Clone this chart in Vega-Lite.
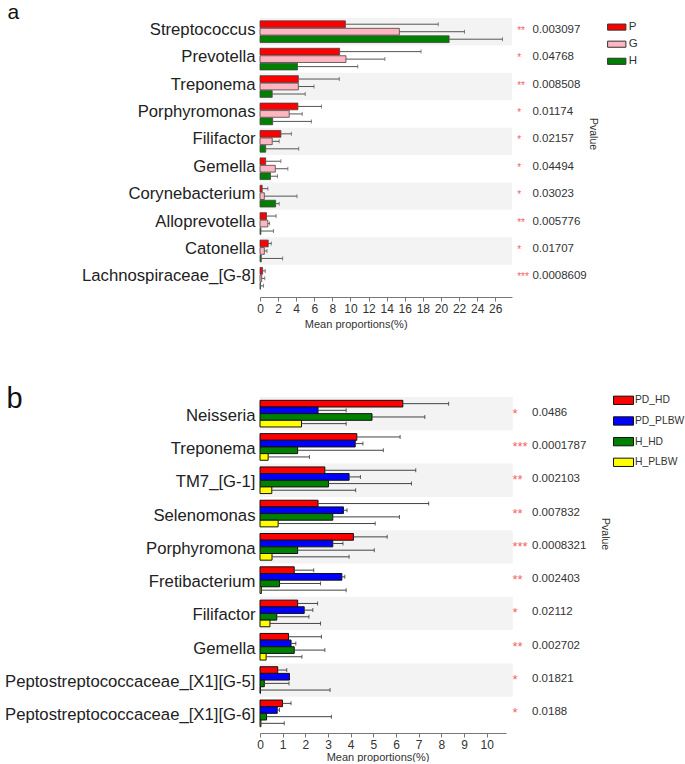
{
  "$schema": "https://vega.github.io/schema/vega-lite/v6.json",
  "padding": {"left": 4, "top": 2, "right": 0, "bottom": 0},
  "spacing": 56,
  "config": {
    "font": "Liberation Sans",
    "view": {"stroke": null},
    "axis": {"labelFont": "Liberation Sans", "titleFont": "Liberation Sans", "labelColor": "#333", "titleColor": "#333", "domainColor": "#777", "tickColor": "#777", "grid": false},
    "axisX": {"labelOverlap": false, "titleFontSize": 11, "titleFontWeight": "normal", "labelFontSize": 12, "tickSize": 4, "labelPadding": 2, "titlePadding": 4, "labelFlush": false}
  },
  "datasets": {
    "a_bars": [
      {"taxon": "Streptococcus", "group": "P", "mean": 9.44, "upper": 19.7},
      {"taxon": "Streptococcus", "group": "G", "mean": 15.4, "upper": 22.6},
      {"taxon": "Streptococcus", "group": "H", "mean": 20.9, "upper": 26.8},
      {"taxon": "Prevotella", "group": "P", "mean": 8.8, "upper": 17.8},
      {"taxon": "Prevotella", "group": "G", "mean": 9.5, "upper": 13.8},
      {"taxon": "Prevotella", "group": "H", "mean": 4.14, "upper": 10.8},
      {"taxon": "Treponema", "group": "P", "mean": 4.24, "upper": 8.76},
      {"taxon": "Treponema", "group": "G", "mean": 4.24, "upper": 5.97},
      {"taxon": "Treponema", "group": "H", "mean": 1.35, "upper": 5.0},
      {"taxon": "Porphyromonas", "group": "P", "mean": 4.19, "upper": 6.79},
      {"taxon": "Porphyromonas", "group": "G", "mean": 3.23, "upper": 4.67},
      {"taxon": "Porphyromonas", "group": "H", "mean": 1.4, "upper": 5.68},
      {"taxon": "Filifactor", "group": "P", "mean": 2.31, "upper": 3.47},
      {"taxon": "Filifactor", "group": "G", "mean": 1.35, "upper": 2.12},
      {"taxon": "Filifactor", "group": "H", "mean": 0.63, "upper": 4.28},
      {"taxon": "Gemella", "group": "P", "mean": 0.63, "upper": 2.31},
      {"taxon": "Gemella", "group": "G", "mean": 1.69, "upper": 3.08},
      {"taxon": "Gemella", "group": "H", "mean": 1.16, "upper": 1.93},
      {"taxon": "Corynebacterium", "group": "P", "mean": 0.24, "upper": 0.87},
      {"taxon": "Corynebacterium", "group": "G", "mean": 0.48, "upper": 4.09},
      {"taxon": "Corynebacterium", "group": "H", "mean": 1.73, "upper": 2.12},
      {"taxon": "Alloprevotella", "group": "P", "mean": 0.72, "upper": 1.78},
      {"taxon": "Alloprevotella", "group": "G", "mean": 0.87, "upper": 1.06},
      {"taxon": "Alloprevotella", "group": "H", "mean": 0.1, "upper": 1.49},
      {"taxon": "Catonella", "group": "P", "mean": 0.91, "upper": 1.25},
      {"taxon": "Catonella", "group": "G", "mean": 0.48, "upper": 0.77},
      {"taxon": "Catonella", "group": "H", "mean": 0.14, "upper": 2.5},
      {"taxon": "Lachnospiraceae_[G-8]", "group": "P", "mean": 0.29, "upper": 0.58},
      {"taxon": "Lachnospiraceae_[G-8]", "group": "G", "mean": 0.19, "upper": 0.53},
      {"taxon": "Lachnospiraceae_[G-8]", "group": "H", "mean": 0.05, "upper": 0.39}
    ],
    "a_p": [
      {"taxon": "Streptococcus", "star": "**", "p": "0.003097"},
      {"taxon": "Prevotella", "star": "*", "p": "0.04768"},
      {"taxon": "Treponema", "star": "**", "p": "0.008508"},
      {"taxon": "Porphyromonas", "star": "*", "p": "0.01174"},
      {"taxon": "Filifactor", "star": "*", "p": "0.02157"},
      {"taxon": "Gemella", "star": "*", "p": "0.04494"},
      {"taxon": "Corynebacterium", "star": "*", "p": "0.03023"},
      {"taxon": "Alloprevotella", "star": "**", "p": "0.005776"},
      {"taxon": "Catonella", "star": "*", "p": "0.01707"},
      {"taxon": "Lachnospiraceae_[G-8]", "star": "***", "p": "0.0008609"}
    ],
    "b_bars": [
      {"taxon": "Neisseria", "group": "PD_HD", "mean": 6.3, "upper": 8.32},
      {"taxon": "Neisseria", "group": "PD_PLBW", "mean": 2.56, "upper": 3.8},
      {"taxon": "Neisseria", "group": "H_HD", "mean": 4.94, "upper": 7.27},
      {"taxon": "Neisseria", "group": "H_PLBW", "mean": 1.83, "upper": 3.8},
      {"taxon": "Treponema", "group": "PD_HD", "mean": 4.27, "upper": 6.18},
      {"taxon": "Treponema", "group": "PD_PLBW", "mean": 4.2, "upper": 4.54},
      {"taxon": "Treponema", "group": "H_HD", "mean": 1.66, "upper": 5.44},
      {"taxon": "Treponema", "group": "H_PLBW", "mean": 0.36, "upper": 2.18},
      {"taxon": "TM7_[G-1]", "group": "PD_HD", "mean": 2.86, "upper": 6.87},
      {"taxon": "TM7_[G-1]", "group": "PD_PLBW", "mean": 3.93, "upper": 4.43},
      {"taxon": "TM7_[G-1]", "group": "H_HD", "mean": 3.02, "upper": 6.68},
      {"taxon": "TM7_[G-1]", "group": "H_PLBW", "mean": 0.52, "upper": 4.22},
      {"taxon": "Selenomonas", "group": "PD_HD", "mean": 2.56, "upper": 7.44},
      {"taxon": "Selenomonas", "group": "PD_PLBW", "mean": 3.68, "upper": 3.84},
      {"taxon": "Selenomonas", "group": "H_HD", "mean": 3.21, "upper": 6.15},
      {"taxon": "Selenomonas", "group": "H_PLBW", "mean": 0.8, "upper": 5.08},
      {"taxon": "Porphyromona", "group": "PD_HD", "mean": 4.12, "upper": 5.61},
      {"taxon": "Porphyromona", "group": "PD_PLBW", "mean": 3.21, "upper": 3.66},
      {"taxon": "Porphyromona", "group": "H_HD", "mean": 1.66, "upper": 5.04},
      {"taxon": "Porphyromona", "group": "H_PLBW", "mean": 0.53, "upper": 3.93},
      {"taxon": "Fretibacterium", "group": "PD_HD", "mean": 1.51, "upper": 2.37},
      {"taxon": "Fretibacterium", "group": "PD_PLBW", "mean": 3.61, "upper": 3.74},
      {"taxon": "Fretibacterium", "group": "H_HD", "mean": 0.86, "upper": 2.67},
      {"taxon": "Fretibacterium", "group": "H_PLBW", "mean": 0.06, "upper": 3.8},
      {"taxon": "Filifactor", "group": "PD_HD", "mean": 1.66, "upper": 2.54},
      {"taxon": "Filifactor", "group": "PD_PLBW", "mean": 1.95, "upper": 2.33},
      {"taxon": "Filifactor", "group": "H_HD", "mean": 0.74, "upper": 2.16},
      {"taxon": "Filifactor", "group": "H_PLBW", "mean": 0.44, "upper": 2.67},
      {"taxon": "Gemella", "group": "PD_HD", "mean": 1.26, "upper": 2.71},
      {"taxon": "Gemella", "group": "PD_PLBW", "mean": 1.37, "upper": 1.58},
      {"taxon": "Gemella", "group": "H_HD", "mean": 1.51, "upper": 2.86},
      {"taxon": "Gemella", "group": "H_PLBW", "mean": 0.27, "upper": 1.85},
      {"taxon": "Peptostreptococcaceae_[X1][G-5]", "group": "PD_HD", "mean": 0.78, "upper": 1.18},
      {"taxon": "Peptostreptococcaceae_[X1][G-5]", "group": "PD_PLBW", "mean": 1.3, "upper": 1.3},
      {"taxon": "Peptostreptococcaceae_[X1][G-5]", "group": "H_HD", "mean": 0.19, "upper": 1.28},
      {"taxon": "Peptostreptococcaceae_[X1][G-5]", "group": "H_PLBW", "mean": 0.02, "upper": 3.09},
      {"taxon": "Peptostreptococcaceae_[X1][G-6]", "group": "PD_HD", "mean": 0.99, "upper": 1.37},
      {"taxon": "Peptostreptococcaceae_[X1][G-6]", "group": "PD_PLBW", "mean": 0.76, "upper": 0.86},
      {"taxon": "Peptostreptococcaceae_[X1][G-6]", "group": "H_HD", "mean": 0.29, "upper": 3.15},
      {"taxon": "Peptostreptococcaceae_[X1][G-6]", "group": "H_PLBW", "mean": 0.04, "upper": 1.07}
    ],
    "b_p": [
      {"taxon": "Neisseria", "star": "*", "p": "0.0486"},
      {"taxon": "Treponema", "star": "***", "p": "0.0001787"},
      {"taxon": "TM7_[G-1]", "star": "**", "p": "0.002103"},
      {"taxon": "Selenomonas", "star": "**", "p": "0.007832"},
      {"taxon": "Porphyromona", "star": "***", "p": "0.0008321"},
      {"taxon": "Fretibacterium", "star": "**", "p": "0.002403"},
      {"taxon": "Filifactor", "star": "*", "p": "0.02112"},
      {"taxon": "Gemella", "star": "**", "p": "0.002702"},
      {"taxon": "Peptostreptococcaceae_[X1][G-5]", "star": "*", "p": "0.01821"},
      {"taxon": "Peptostreptococcaceae_[X1][G-6]", "star": "*", "p": "0.0188"}
    ]
  },
  "resolve": {"scale": {"color": "independent", "yOffset": "independent", "x": "independent", "y": "independent"}, "legend": {"color": "independent"}},
  "vconcat": [
    {
      "title": {"text": "a", "anchor": "start", "frame": "group", "fontSize": 21, "fontWeight": "normal", "baseline": "alphabetic", "offset": -1.2, "dy": 21.2, "dx": -252.5, "color": "#111"},
      "width": 252,
      "height": 279,
      "resolve": {"axis": {"y": "independent"}},
      "layer": [
        {
          "data": {"name": "a_p"},
          "transform": [{"filter": {"field": "taxon", "oneOf": ["Streptococcus", "Treponema", "Filifactor", "Corynebacterium", "Catonella"]}}],
          "mark": {"type": "bar", "color": "#f3f3f3"},
          "encoding": {
            "y": {"field": "taxon", "type": "nominal", "sort": null, "scale": {"domain": ["Streptococcus", "Prevotella", "Treponema", "Porphyromonas", "Filifactor", "Gemella", "Corynebacterium", "Alloprevotella", "Catonella", "Lachnospiraceae_[G-8]"], "paddingInner": 0, "paddingOuter": 0.09, "align": 0}, "axis": null},
            "x": {"datum": 0, "type": "quantitative", "scale": {"domain": [0, 27.85], "nice": false},
              "axis": {"values": [0, 2, 4, 6, 8, 10, 12, 14, 16, 18, 20, 22, 24, 26], "title": "Mean proportions(%)", "titleX": 95.7}},
            "x2": {"datum": 27.85}
          }
        },
        {
          "data": {"name": "a_bars"},
          "mark": {"type": "bar", "stroke": "#444", "strokeWidth": 0.8},
          "encoding": {
            "y": {"field": "taxon", "type": "nominal", "sort": null, "scale": {"domain": ["Streptococcus", "Prevotella", "Treponema", "Porphyromonas", "Filifactor", "Gemella", "Corynebacterium", "Alloprevotella", "Catonella", "Lachnospiraceae_[G-8]"], "paddingInner": 0, "paddingOuter": 0.09, "align": 0},
              "axis": {"title": null, "ticks": false, "domain": false, "labelFontSize": 16.7, "labelPadding": 5, "labelColor": "#222", "labelLimit": 400, "labelOffset": -2}},
            "yOffset": {"field": "group", "type": "nominal", "sort": null, "scale": {"domain": ["P", "G", "H"], "paddingInner": 0.1, "paddingOuter": 0.38}},
            "x": {"field": "mean", "type": "quantitative", "scale": {"domain": [0, 27.85], "nice": false},
              "axis": {"values": [0, 2, 4, 6, 8, 10, 12, 14, 16, 18, 20, 22, 24, 26], "title": "Mean proportions(%)", "titleX": 95.7}},
            "color": {"field": "group", "type": "nominal", "scale": {"domain": ["P", "G", "H"], "range": ["#ff0000", "#ffb6c1", "#008000"]},
              "legend": {"orient": "none", "legendX": 349.75, "legendY": 2.1, "title": null, "symbolType": "M-1.5,-0.5H1.5V0.5H-1.5Z", "symbolSize": 149, "symbolStrokeColor": "#333", "symbolStrokeWidth": 1, "symbolOpacity": 1, "labelFontSize": 11.5, "labelOffset": 5, "rowPadding": 4.1, "padding": 0, "labelColor": "#333"}}
          }
        },
        {
          "data": {"name": "a_bars"},
          "mark": {"type": "rule", "color": "#555", "strokeWidth": 1},
          "encoding": {
            "y": {"field": "taxon", "type": "nominal", "sort": null, "axis": null},
            "yOffset": {"field": "group", "type": "nominal", "sort": null},
            "x": {"field": "mean", "type": "quantitative", "axis": {"values": [0, 2, 4, 6, 8, 10, 12, 14, 16, 18, 20, 22, 24, 26], "title": "Mean proportions(%)", "titleX": 95.7}},
            "x2": {"field": "upper"}
          }
        },
        {
          "data": {"name": "a_bars"},
          "mark": {"type": "tick", "orient": "vertical", "color": "#555", "thickness": 1, "size": 4},
          "encoding": {
            "y": {"field": "taxon", "type": "nominal", "sort": null, "axis": null},
            "yOffset": {"field": "group", "type": "nominal", "sort": null},
            "x": {"field": "upper", "type": "quantitative", "axis": {"values": [0, 2, 4, 6, 8, 10, 12, 14, 16, 18, 20, 22, 24, 26], "title": "Mean proportions(%)", "titleX": 95.7}}
          }
        },
        {
          "data": {"name": "a_p"},
          "mark": {"type": "text", "align": "left", "baseline": "middle", "dx": 5.2, "dy": -1, "fontSize": 10, "color": "#f26464"},
          "encoding": {
            "y": {"field": "taxon", "type": "nominal", "sort": null, "axis": null},
            "x": {"datum": 27.85, "type": "quantitative", "axis": {"values": [0, 2, 4, 6, 8, 10, 12, 14, 16, 18, 20, 22, 24, 26], "title": "Mean proportions(%)", "titleX": 95.7}},
            "text": {"field": "star"}
          }
        },
        {
          "data": {"name": "a_p"},
          "mark": {"type": "text", "align": "left", "baseline": "middle", "dx": 20.4, "dy": -2, "fontSize": 11.5, "color": "#333"},
          "encoding": {
            "y": {"field": "taxon", "type": "nominal", "sort": null,
              "axis": {"orient": "right", "labels": false, "ticks": false, "domain": false, "title": "Pvalue", "titleAngle": 90, "titleX": 80.2, "titleY": 115.5, "titleFontSize": 10.5, "titleFontWeight": "normal", "titleBaseline": "middle", "titleAlign": "center"}},
            "x": {"datum": 27.85, "type": "quantitative", "axis": {"values": [0, 2, 4, 6, 8, 10, 12, 14, 16, 18, 20, 22, 24, 26], "title": "Mean proportions(%)", "titleX": 95.7}},
            "text": {"field": "p"}
          }
        }
      ]
    },
    {
      "title": {"text": "b", "anchor": "start", "frame": "group", "fontSize": 29, "fontWeight": "normal", "baseline": "alphabetic", "offset": -11.6, "dy": 32.6, "dx": -253.5, "color": "#111"},
      "width": 246,
      "height": 336,
      "resolve": {"axis": {"y": "independent"}},
      "layer": [
        {
          "data": {"name": "b_p"},
          "transform": [{"filter": {"field": "taxon", "oneOf": ["Neisseria", "TM7_[G-1]", "Porphyromona", "Filifactor", "Peptostreptococcaceae_[X1][G-5]"]}}],
          "mark": {"type": "bar", "color": "#f3f3f3"},
          "encoding": {
            "y": {"field": "taxon", "type": "nominal", "sort": null, "scale": {"domain": ["Neisseria", "Treponema", "TM7_[G-1]", "Selenomonas", "Porphyromona", "Fretibacterium", "Filifactor", "Gemella", "Peptostreptococcaceae_[X1][G-5]", "Peptostreptococcaceae_[X1][G-6]"], "paddingInner": 0, "paddingOuter": 0.045, "align": 0}, "axis": null},
            "x": {"datum": 0, "type": "quantitative", "scale": {"domain": [0, 10.85], "nice": false},
              "axis": {"values": [0, 1, 2, 3, 4, 5, 6, 7, 8, 9, 10], "title": "Mean proportions(%)", "titleX": 117.5, "titlePadding": 1}},
            "x2": {"datum": 11.15}
          }
        },
        {
          "data": {"name": "b_bars"},
          "mark": {"type": "bar", "stroke": "#111", "strokeWidth": 1},
          "encoding": {
            "y": {"field": "taxon", "type": "nominal", "sort": null, "scale": {"domain": ["Neisseria", "Treponema", "TM7_[G-1]", "Selenomonas", "Porphyromona", "Fretibacterium", "Filifactor", "Gemella", "Peptostreptococcaceae_[X1][G-5]", "Peptostreptococcaceae_[X1][G-6]"], "paddingInner": 0, "paddingOuter": 0.045, "align": 0},
              "axis": {"title": null, "ticks": false, "domain": false, "labelFontSize": 16.7, "labelPadding": 5, "labelColor": "#222", "labelLimit": 400, "labelOffset": 2}},
            "yOffset": {"field": "group", "type": "nominal", "sort": null, "scale": {"domain": ["PD_HD", "PD_PLBW", "H_HD", "H_PLBW"], "paddingInner": 0, "paddingOuter": 0.5}},
            "x": {"field": "mean", "type": "quantitative", "scale": {"domain": [0, 10.85], "nice": false},
              "axis": {"values": [0, 1, 2, 3, 4, 5, 6, 7, 8, 9, 10], "title": "Mean proportions(%)", "titleX": 117.5, "titlePadding": 1}},
            "color": {"field": "group", "type": "nominal", "scale": {"domain": ["PD_HD", "PD_PLBW", "H_HD", "H_PLBW"], "range": ["#ff0000", "#0000ff", "#008000", "#ffff00"]},
              "legend": {"orient": "none", "legendX": 356, "legendY": -4.2, "title": null, "symbolType": "M-1.5,-0.625H1.5V0.625H-1.5Z", "symbolSize": 178, "symbolStrokeColor": "#111", "symbolStrokeWidth": 1, "symbolOpacity": 1, "labelFontSize": 10.3, "labelOffset": 4, "rowPadding": 6.67, "padding": 0, "labelColor": "#333"}}
          }
        },
        {
          "data": {"name": "b_bars"},
          "mark": {"type": "rule", "color": "#444", "strokeWidth": 1},
          "encoding": {
            "y": {"field": "taxon", "type": "nominal", "sort": null, "axis": null},
            "yOffset": {"field": "group", "type": "nominal", "sort": null},
            "x": {"field": "mean", "type": "quantitative", "axis": {"values": [0, 1, 2, 3, 4, 5, 6, 7, 8, 9, 10], "title": "Mean proportions(%)", "titleX": 117.5, "titlePadding": 1}},
            "x2": {"field": "upper"}
          }
        },
        {
          "data": {"name": "b_bars"},
          "mark": {"type": "tick", "orient": "vertical", "color": "#222", "thickness": 1, "size": 4},
          "encoding": {
            "y": {"field": "taxon", "type": "nominal", "sort": null, "axis": null},
            "yOffset": {"field": "group", "type": "nominal", "sort": null},
            "x": {"field": "upper", "type": "quantitative", "axis": {"values": [0, 1, 2, 3, 4, 5, 6, 7, 8, 9, 10], "title": "Mean proportions(%)", "titleX": 117.5, "titlePadding": 1}}
          }
        },
        {
          "data": {"name": "b_p"},
          "mark": {"type": "text", "align": "left", "baseline": "middle", "dx": 6.4, "dy": 0, "fontSize": 13, "color": "#f26464"},
          "encoding": {
            "y": {"field": "taxon", "type": "nominal", "sort": null, "axis": null},
            "x": {"datum": 10.85, "type": "quantitative", "axis": {"values": [0, 1, 2, 3, 4, 5, 6, 7, 8, 9, 10], "title": "Mean proportions(%)", "titleX": 117.5, "titlePadding": 1}},
            "text": {"field": "star"}
          }
        },
        {
          "data": {"name": "b_p"},
          "mark": {"type": "text", "align": "left", "baseline": "middle", "dx": 26, "dy": -1, "fontSize": 11.5, "color": "#333"},
          "encoding": {
            "y": {"field": "taxon", "type": "nominal", "sort": null,
              "axis": {"orient": "right", "labels": false, "ticks": false, "domain": false, "title": "Pvalue", "titleAngle": 90, "titleX": 98.7, "titleY": 136.6, "titleFontSize": 10.5, "titleFontWeight": "normal", "titleBaseline": "middle", "titleAlign": "center"}},
            "x": {"datum": 10.85, "type": "quantitative", "axis": {"values": [0, 1, 2, 3, 4, 5, 6, 7, 8, 9, 10], "title": "Mean proportions(%)", "titleX": 117.5, "titlePadding": 1}},
            "text": {"field": "p"}
          }
        }
      ]
    }
  ]
}
